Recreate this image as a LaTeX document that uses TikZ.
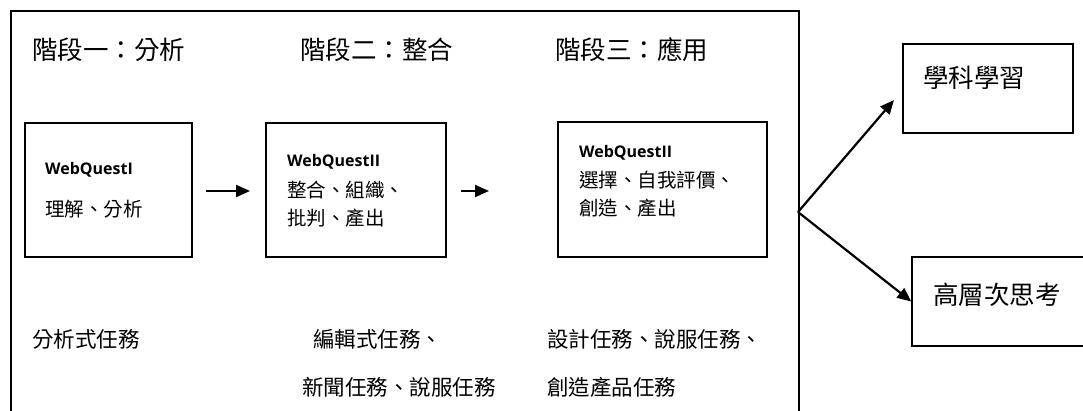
\documentclass[tikz,border=0pt]{standalone}
\usepackage{fontspec}
\setmainfont{Noto Sans CJK TC}
\newfontfamily\latinb{Open Sans}
\usetikzlibrary{arrows.meta}
\tikzset{
  frameline/.style={line width=1.4pt},
  boxnode/.style={draw, line width=1.4pt, inner sep=0pt},
  arr/.style={line width=2.2pt, -{Triangle[length=14pt,width=12pt]}},
  title/.style={anchor=west, inner sep=0pt, font=\fontsize{25.5}{30}\selectfont},
  wq/.style={anchor=west, inner sep=0pt, font=\latinb\bfseries\fontsize{16}{19}\selectfont},
  intxt/.style={anchor=west, inner sep=0pt, font=\fontsize{19.5}{23}\selectfont},
  bot/.style={anchor=west, inner sep=0pt, font=\fontsize{21.5}{24}\selectfont},
}
\begin{document}
\begin{tikzpicture}[x=1pt,y=-1pt]
\useasboundingbox (0,0) rectangle (1083,410);
% outer frame (open at bottom)
\coordinate (fbl) at (11,412);
\coordinate (ftl) at (11,11);
\coordinate (ftr) at (799,11);
\coordinate (fbr) at (799,412);
\draw[frameline] (fbl) -- (ftl) -- (ftr) -- (fbr);
% titles
\node[title] (t1) at (32,50) {階段一：分析};
\node[title] (t2) at (300,50) {階段二：整合};
\node[title] (t3) at (555,50) {階段三：應用};
% boxes
\node[boxnode, minimum width=167pt, minimum height=134pt] (b1) at (108.5,190) {};
\node[boxnode, minimum width=180pt, minimum height=134pt] (b2) at (356,190) {};
\node[boxnode, minimum width=209pt, minimum height=135pt] (b3) at (662.5,189.5) {};
\node[boxnode, minimum width=170pt, minimum height=89pt] (b4) at (988,88.5) {};
\node[boxnode, minimum width=190pt, minimum height=89pt] (b5) at (1007,301.5) {};
% box texts
\node[wq] (w1) at (45,170) {WebQuestI};
\node[intxt] (l1) at (45,209) {理解、分析};
\node[wq] (w2) at (287,162) {WebQuestII};
\node[intxt] (l2a) at (287,190) {整合、組織、};
\node[intxt] (l2b) at (287,218) {批判、產出};
\node[wq] (w3) at (579,153) {WebQuestII};
\node[intxt] (l3a) at (579,180) {選擇、自我評價、};
\node[intxt] (l3b) at (579,208) {創造、產出};
\node[title] (r1) at (923,78) {學科學習};
\node[title] (r2) at (933,295) {高層次思考};
% bottom texts
\node[bot] (p1) at (32,339) {分析式任務};
\node[bot] (p2a) at (313,339) {編輯式任務、};
\node[bot] (p2b) at (302,387) {新聞任務、說服任務};
\node[bot] (p3a) at (547,339) {設計任務、說服任務、};
\node[bot] (p3b) at (547,387) {創造產品任務};
% arrows between boxes
\coordinate (a1s) at (206,191);
\coordinate (a1e) at (250,191);
\coordinate (a2s) at (461,191);
\coordinate (a2e) at (489,191);
\draw[arr] (a1s) -- (a1e);
\draw[arr] (a2s) -- (a2e);
% fork
\coordinate (fork) at (798,212);
\coordinate (tip1) at (894,100);
\draw[arr] (fork) -- (tip1);
\draw[arr] (fork) -- (b5.west);
\end{tikzpicture}
\end{document}
